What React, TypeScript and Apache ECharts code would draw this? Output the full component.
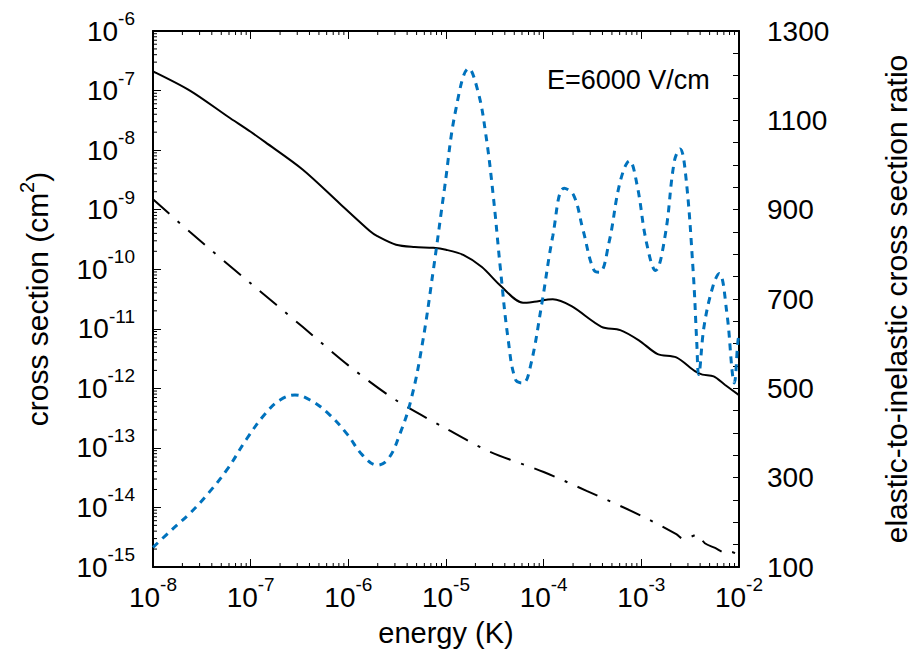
import React, { useEffect, useRef } from "react";
import * as echarts from "echarts";

// Elastic cross section (cm^2) versus collision energy (K)
const elasticEnergy = [
  1e-8, 2.41e-8, 5.82e-8, 1.0e-7, 1.41e-7, 3.4e-7, 8.2e-7, 1.66e-6, 1.98e-6, 3.08e-6,
  4.78e-6, 7.41e-6, 1.0e-5, 1.5e-5, 2.33e-5, 3.62e-5, 6.15e-5, 8.0e-5, 1.24e-4, 1.93e-4,
  3.91e-4, 6.08e-4, 9.44e-4, 1.47e-3, 2.28e-3, 3.54e-3, 4.22e-3, 5.5e-3, 7.16e-3, 1e-2,
];
const elasticSigma = [
  2.1e-7, 9.9e-8, 3.67e-8, 2.03e-8, 1.36e-8, 4.73e-9, 1.26e-9, 4.39e-10, 3.6e-10, 2.58e-10,
  2.36e-10, 2.29e-10, 2.12e-10, 1.74e-10, 1.09e-10, 5.28e-11, 2.73e-11, 2.84e-11, 3.12e-11, 2.39e-11,
  1.08e-11, 9.5e-12, 6.4e-12, 3.76e-12, 3.3e-12, 1.94e-12, 1.7e-12, 1.59e-12, 1.15e-12, 7.7e-13,
];

// Inelastic cross section (cm^2)
const inelasticEnergy = [
  1e-8, 2.41e-8, 1.0e-7, 3.4e-7, 1.0e-6, 3.08e-6, 1.0e-5, 2.78e-5, 1.0e-4, 2.75e-4,
  1.0e-3, 2.28e-3, 2.69e-3, 3.02e-3, 3.72e-3, 4.47e-3, 5.69e-3, 7.36e-3, 8.28e-3, 1e-2,
];
const inelasticSigma = [
  1.5e-9, 4.16e-10, 5.79e-11, 1.08e-11, 2.43e-12, 6.31e-13, 2.11e-13, 8.69e-14, 3.94e-14, 1.9e-14,
  7.24e-15, 3.55e-15, 2.96e-15, 3.09e-15, 3.47e-15, 2.51e-15, 2.09e-15, 1.72e-15, 1.79e-15, 1.58e-15,
];

// Elastic-to-inelastic ratio (right axis)
const ratioEnergy = [
  1e-8, 1.55e-8, 2.41e-8, 3.75e-8, 5.82e-8, 9.05e-8, 1.41e-7, 2.0e-7, 2.84e-7, 4.05e-7,
  6.29e-7, 9.77e-7, 1.39e-6, 1.98e-6, 2.58e-6, 3.36e-6, 4.38e-6, 5.69e-6, 7.41e-6, 9.66e-6,
  1.26e-5, 1.71e-5, 2.14e-5, 2.55e-5, 3.04e-5, 3.62e-5, 4.32e-5, 5.16e-5, 6.15e-5, 7.33e-5,
  9.55e-5, 1.24e-4, 1.62e-4, 2.02e-4, 2.52e-4, 3.28e-4, 3.74e-4, 4.66e-4, 6.08e-4, 7.57e-4,
  9.03e-4, 1.13e-3, 1.4e-3, 1.75e-3, 2.18e-3, 2.49e-3, 2.84e-3, 3.39e-3, 3.7e-3, 3.86e-3,
  4.41e-3, 5.5e-3, 6.28e-3, 7.48e-3, 8.54e-3, 8.93e-3, 9.74e-3, 1e-2,
];
const ratioValue = [
  144, 183, 221, 267, 320, 386, 443, 474, 485, 474,
  443, 397, 351, 328, 343, 397, 474, 596, 764, 948,
  1124, 1216, 1162, 1070, 933, 764, 611, 519, 512, 550,
  688, 841, 948, 933, 856, 764, 760, 826, 963, 1009,
  956, 826, 764, 841, 1009, 1036, 979, 764, 600, 531,
  642, 734, 757, 672, 535, 512, 604, 620,
];

// Axis ranges
const xRange = [1e-8, 1e-2];
const yRange = [1e-15, 1e-6];
const ratioRange = [100, 1300];
const xDecadeExponents = [-8, -7, -6, -5, -4, -3];
const yDecadeExponents = [-15, -14, -13, -12, -11, -10, -9, -8, -7];
const minorMultipliers = [2, 3, 4, 5, 6, 7, 8, 9];

const FONT = '"Liberation Sans", Arial, Helvetica, sans-serif';

const pairs = (xs: number[], ys: number[]) => xs.map((x, i) => [x, ys[i]]);

const powerLabel = (v: number) => `{b|10}{s|${Math.round(Math.log10(v))}}`;
const powerRich = {
  b: { fontSize: 28, fontFamily: FONT, color: "#000", lineHeight: 44 },
  s: { fontSize: 19, fontFamily: FONT, color: "#000", verticalAlign: "top" as const },
};

const minorValues = (exps: number[]) =>
  exps.flatMap((e) => minorMultipliers.map((m) => m * Math.pow(10, e)));

export default function App() {
  const ref = useRef<HTMLDivElement>(null);

  useEffect(() => {
    if (!ref.current) return;
    const chart = echarts.init(ref.current, null, { renderer: "svg" });

    const minorX = minorValues(xDecadeExponents);
    const minorY = minorValues(yDecadeExponents);

    const option: any = {
      animation: false,
      backgroundColor: "#fff",
      textStyle: { fontFamily: FONT },
      grid: { left: 153, right: 178, top: 31, bottom: 93 },
      xAxis: [
        {
          type: "log",
          logBase: 10,
          min: xRange[0],
          max: xRange[1],
          splitNumber: 6,
          position: "bottom",
          name: "energy (K)",
          nameLocation: "middle",
          nameGap: 51,
          nameTextStyle: { fontSize: 29, fontFamily: FONT, color: "#000" },
          axisLine: { lineStyle: { color: "#000", width: 2 } },
          axisTick: { inside: true, length: 8, lineStyle: { color: "#000", width: 1 } },
          axisLabel: { formatter: powerLabel, rich: powerRich, margin: 8 },
          splitLine: { show: false },
        },
        {
          type: "log",
          logBase: 10,
          min: xRange[0],
          max: xRange[1],
          splitNumber: 6,
          position: "top",
          axisLine: { lineStyle: { color: "#000", width: 2 } },
          axisTick: { inside: true, length: 8, lineStyle: { color: "#000", width: 1 } },
          axisLabel: { show: false },
          splitLine: { show: false },
        },
      ],
      yAxis: [
        {
          type: "log",
          logBase: 10,
          min: yRange[0],
          max: yRange[1],
          splitNumber: 9,
          position: "left",
          name: "cross section (cm{s|2})",
          nameLocation: "middle",
          nameGap: 96,
          nameTextStyle: {
            fontSize: 30,
            fontFamily: FONT,
            color: "#000",
            lineHeight: 40,
            rich: { s: { fontSize: 20, fontFamily: FONT, color: "#000", verticalAlign: "top" } },
          },
          axisLine: { lineStyle: { color: "#000", width: 2 } },
          axisTick: { inside: true, length: 8, lineStyle: { color: "#000", width: 1 } },
          axisLabel: { formatter: powerLabel, rich: powerRich, margin: 18 },
          splitLine: { show: false },
        },
        {
          type: "value",
          min: ratioRange[0],
          max: ratioRange[1],
          interval: 50,
          position: "right",
          name: "elastic-to-inelastic cross section ratio",
          nameLocation: "middle",
          nameGap: 142,
          nameTextStyle: { fontSize: 30, fontFamily: FONT, color: "#000" },
          axisLine: { show: true, lineStyle: { color: "#000", width: 2 } },
          axisTick: { show: true, inside: true, length: 6, lineStyle: { color: "#000", width: 1 } },
          axisLabel: {
            margin: 28,
            fontSize: 28,
            fontFamily: FONT,
            color: "#000",
            formatter: (v: number) => ((v - ratioRange[0]) % 200 === 0 ? String(v) : ""),
          },
          splitLine: { show: false },
        },
      ],
      graphic: [
        {
          type: "text",
          left: 547,
          top: 66,
          style: { text: "E=6000 V/cm", fontSize: 27, fontFamily: FONT, fill: "#000" },
        },
      ],
      series: [
        {
          name: "minor ticks",
          type: "custom",
          xAxisIndex: 0,
          yAxisIndex: 0,
          silent: true,
          clip: false,
          z: 5,
          data: [[xRange[0], yRange[0]]],
          renderItem: (_params: any, api: any) => {
            const bl = api.coord([xRange[0], yRange[0]]);
            const tr = api.coord([xRange[1], yRange[1]]);
            const left = bl[0];
            const bottom = bl[1];
            const top = tr[1];
            const style = { stroke: "#000", lineWidth: 1 };
            const children: any[] = [];
            minorX.forEach((v) => {
              const x = api.coord([v, yRange[0]])[0];
              children.push({ type: "line", shape: { x1: x, y1: bottom, x2: x, y2: bottom - 4 }, style });
              children.push({ type: "line", shape: { x1: x, y1: top, x2: x, y2: top + 4 }, style });
            });
            minorY.forEach((v) => {
              const y = api.coord([xRange[0], v])[1];
              children.push({ type: "line", shape: { x1: left, y1: y, x2: left + 4, y2: y }, style });
            });
            return { type: "group", children };
          },
        },
        {
          name: "elastic",
          type: "line",
          xAxisIndex: 0,
          yAxisIndex: 0,
          data: pairs(elasticEnergy, elasticSigma),
          showSymbol: false,
          smooth: 0.3,
          lineStyle: { color: "#000", width: 2 },
        },
        {
          name: "inelastic",
          type: "line",
          xAxisIndex: 0,
          yAxisIndex: 0,
          data: pairs(inelasticEnergy, inelasticSigma),
          showSymbol: false,
          smooth: 0.3,
          lineStyle: { color: "#000", width: 2, type: [22, 11, 3, 11] },
        },
        {
          name: "ratio",
          type: "line",
          xAxisIndex: 0,
          yAxisIndex: 1,
          data: pairs(ratioEnergy, ratioValue),
          showSymbol: false,
          smooth: 0.4,
          lineStyle: { color: "#0072bd", width: 3, type: [7, 6] },
        },
      ],
    };

    chart.setOption(option);
    return () => chart.dispose();
  }, []);

  return <div ref={ref} style={{ width: 919, height: 660, margin: -8 }} />;
}
